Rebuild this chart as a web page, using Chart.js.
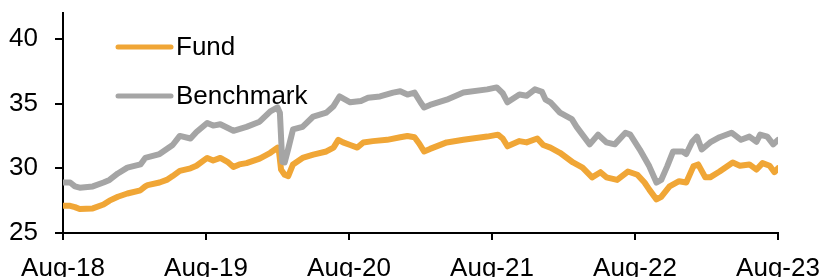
<!DOCTYPE html>
<html>
<head>
<meta charset="utf-8">
<script src="https://cdn.jsdelivr.net/npm/chart.js@4.4.0/dist/chart.umd.min.js"></script>
<style>
  body { margin: 0; background: #ffffff; }
  #wrap { width: 824px; height: 277px; }
</style>
</head>
<body>
<div id="wrap"><canvas id="perf-chart" width="824" height="277"></canvas></div>
<script>
// x values are months since Aug-18
const tickLabels = ["Aug-18", "Aug-19", "Aug-20", "Aug-21", "Aug-22", "Aug-23"];
const yTicks = [25, 30, 35, 40];

const fundMonths = [
  0, 0.6, 1.0, 1.4, 2.5, 3.4, 3.9, 4.6, 5.4, 6.5, 6.9, 7.1, 8.1, 8.7, 9.2, 9.8,
  10.7, 11.2, 12.1, 12.6, 13.2, 13.8, 14.3, 14.8, 15.4, 16.5, 17.4, 18.0, 18.1,
  18.3, 18.6, 18.9, 19.3, 20.1, 21.0, 22.1, 22.7, 23.1, 23.5, 24.1, 24.7, 25.2,
  26.0, 27.2, 28.3, 28.9, 29.5, 29.9, 30.3, 30.8, 32.2, 33.6, 35.6, 36.5, 36.9,
  37.3, 38.3, 38.9, 39.8, 40.3, 40.9, 41.7, 42.8, 43.6, 44.4, 45.1, 45.6, 46.5,
  47.4, 48.2, 48.8, 49.2, 49.8, 50.2, 50.9, 51.7, 52.3, 52.9, 53.3, 53.9, 54.3,
  55.1, 56.2, 56.8, 57.6, 58.2, 58.7, 59.3, 59.7, 60.0,
];
const fundValues = [
  27.1, 27.1, 27.0, 26.85, 26.9, 27.2, 27.5, 27.8, 28.05, 28.3, 28.6, 28.7, 28.9,
  29.1, 29.4, 29.8, 30.0, 30.2, 30.8, 30.6, 30.8, 30.5, 30.1, 30.3, 30.4, 30.75,
  31.2, 31.6, 31.5, 29.9, 29.5, 29.4, 30.3, 30.8, 31.05, 31.3, 31.6, 32.2, 32.0,
  31.8, 31.6, 32.0, 32.1, 32.2, 32.4, 32.5, 32.4, 31.9, 31.3, 31.5, 32.0, 32.2,
  32.45, 32.6, 32.3, 31.7, 32.1, 32.0, 32.3, 31.8, 31.6, 31.2, 30.45, 30.05,
  29.3, 29.7, 29.3, 29.1, 29.75, 29.5, 28.9, 28.35, 27.6, 27.8, 28.6, 29.0, 28.9,
  30.15, 30.3, 29.3, 29.3, 29.75, 30.45, 30.2, 30.3, 29.9, 30.4, 30.2, 29.7, 30.0,
];

const benchMonths = [
  0, 0.6, 1.0, 1.4, 2.5, 3.4, 3.9, 4.6, 5.4, 6.5, 6.9, 8.1, 9.2, 9.8, 10.7, 11.2,
  12.1, 12.6, 13.2, 14.3, 15.4, 16.5, 17.4, 18.0, 18.2, 18.4, 18.6, 18.9, 19.3,
  20.1, 21.0, 22.1, 22.7, 23.2, 24.1, 25.0, 25.6, 26.6, 27.7, 28.3, 28.9, 29.5,
  30.0, 30.3, 30.8, 32.2, 33.6, 35.6, 36.4, 36.9, 37.3, 38.3, 38.9, 39.6, 40.2,
  40.5, 40.9, 41.7, 42.7, 43.1, 44.2, 44.9, 45.6, 46.3, 47.2, 47.6, 48.4, 49.2,
  49.8, 50.2, 50.7, 51.2, 52.0, 52.3, 52.8, 53.2, 53.6, 54.3, 55.1, 56.1, 56.9,
  57.6, 58.2, 58.5, 59.1, 59.6, 60.0,
];
const benchValues = [
  28.9, 28.9, 28.6, 28.5, 28.6, 28.9, 29.1, 29.6, 30.05, 30.3, 30.8, 31.1, 31.8,
  32.5, 32.3, 32.8, 33.5, 33.3, 33.4, 32.9, 33.2, 33.6, 34.4, 34.7, 34.3, 30.5,
  30.45, 31.5, 33.0, 33.2, 34.0, 34.3, 34.8, 35.55, 35.1, 35.2, 35.45, 35.55,
  35.85, 35.95, 35.7, 35.85, 35.1, 34.7, 34.9, 35.3, 35.85, 36.1, 36.25, 35.8,
  35.1, 35.7, 35.6, 36.1, 35.9, 35.3, 35.1, 34.3, 33.8, 33.2, 31.85, 32.6, 32.0,
  31.85, 32.75, 32.6, 31.45, 30.15, 28.9, 29.1, 30.15, 31.3, 31.3, 31.1, 32.05,
  32.45, 31.45, 32.0, 32.4, 32.75, 32.2, 32.45, 32.05, 32.6, 32.45, 31.85, 32.2,
];

const FUND_COLOR = "#f0a636";
const BENCH_COLOR = "#a5a5a5";
const FONT = { family: "'Liberation Sans', Arial, sans-serif", size: 26 };

const toPoints = (xs, ys) => xs.map((x, i) => ({ x: x, y: ys[i] }));

// Legend drawn inside the plot, top-left, like the original
const insideLegend = {
  id: "insideLegend",
  afterDraw(chart) {
    const ctx = chart.ctx;
    const items = [
      { label: "Fund", color: FUND_COLOR, y: 47 },
      { label: "Benchmark", color: BENCH_COLOR, y: 96 },
    ];
    ctx.save();
    items.forEach((item) => {
      ctx.strokeStyle = item.color;
      ctx.lineWidth = 5;
      ctx.lineCap = "round";
      ctx.beginPath();
      ctx.moveTo(118, item.y);
      ctx.lineTo(171, item.y);
      ctx.stroke();
      ctx.fillStyle = "#000000";
      ctx.font = `${FONT.size}px ${FONT.family}`;
      ctx.textAlign = "left";
      ctx.textBaseline = "middle";
      ctx.fillText(item.label, 176, item.y + 1);
    });
    ctx.restore();
  },
};

const lineStyle = {
  borderWidth: 6,
  pointRadius: 0,
  tension: 0,
  borderJoinStyle: "round",
  borderCapStyle: "round",
};

const config = {
  type: "line",
  data: {
    datasets: [
      {
        label: "Fund",
        data: toPoints(fundMonths, fundValues),
        borderColor: FUND_COLOR,
        order: 1,
        ...lineStyle,
      },
      {
        label: "Benchmark",
        data: toPoints(benchMonths, benchValues),
        borderColor: BENCH_COLOR,
        order: 0,
        ...lineStyle,
      },
    ],
  },
  options: {
    responsive: false,
    animation: false,
    layout: { padding: { top: 13, right: 46, left: 0, bottom: 0 } },
    plugins: {
      legend: { display: false },
      tooltip: { enabled: false },
    },
    scales: {
      x: {
        type: "linear",
        min: 0,
        max: 60,
        afterBuildTicks: (scale) => {
          scale.ticks = tickLabels.map((_, i) => ({ value: i * 12 }));
        },
        afterFit: (scale) => {
          scale.height = 44;
          scale.paddingLeft = 0;
          scale.paddingRight = 0;
        },
        ticks: {
          autoSkip: false,
          maxRotation: 0,
          padding: 13,
          color: "#000000",
          font: FONT,
          callback: (value) => tickLabels[Math.round(value / 12)],
        },
        grid: {
          drawOnChartArea: false,
          drawTicks: true,
          tickLength: 7,
          color: "#000000",
          lineWidth: 2,
        },
        border: { display: true, color: "#000000", width: 2 },
      },
      y: {
        min: 25,
        max: 42,
        afterBuildTicks: (scale) => {
          scale.ticks = yTicks.map((v) => ({ value: v }));
        },
        afterFit: (scale) => {
          scale.width = 63;
          scale.paddingTop = 0;
          scale.paddingBottom = 0;
        },
        ticks: {
          padding: 17,
          color: "#000000",
          font: FONT,
        },
        grid: {
          drawOnChartArea: false,
          drawTicks: true,
          tickLength: 8,
          color: "#000000",
          lineWidth: 2,
        },
        border: { display: true, color: "#000000", width: 2 },
      },
    },
  },
  plugins: [insideLegend],
};

new Chart(document.getElementById("perf-chart"), config);
</script>
</body>
</html>
